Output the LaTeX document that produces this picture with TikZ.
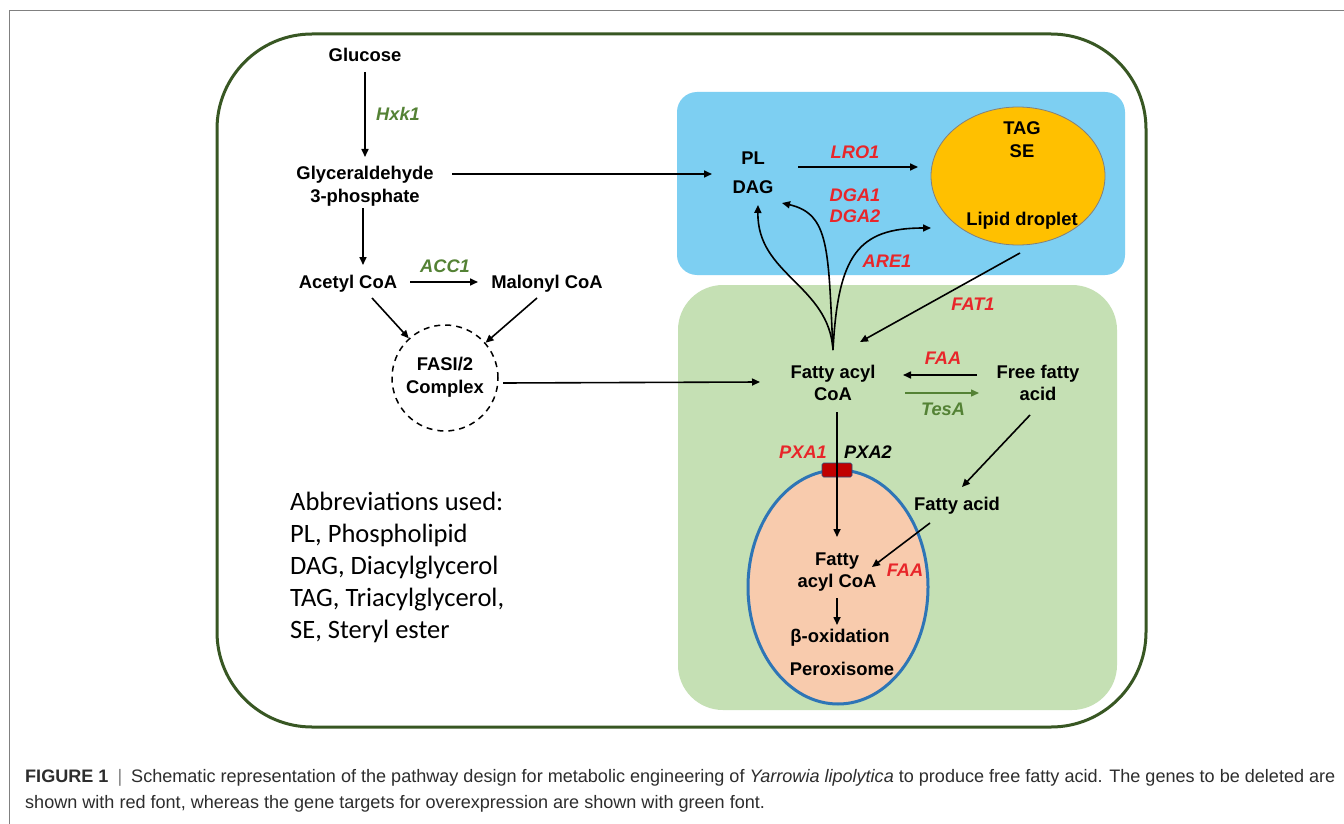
\documentclass[tikz,border=0pt]{standalone}
\usepackage{fontspec}
\setmainfont{Liberation Sans}
\newfontfamily\abbrfont{Carlito}
\usepackage{graphicx}
\usetikzlibrary{arrows.meta,shapes.geometric}
\definecolor{genered}{RGB}{232,38,42}
\definecolor{genegreen}{RGB}{84,130,53}
\definecolor{cellgreen}{RGB}{56,87,35}
\definecolor{erblue}{RGB}{125,207,242}
\definecolor{cytogreen}{RGB}{197,224,180}
\definecolor{ldorange}{RGB}{255,192,0}
\definecolor{peroxfill}{RGB}{248,203,173}
\definecolor{peroxline}{RGB}{46,117,182}
\definecolor{chanred}{RGB}{192,0,0}
\definecolor{framegray}{RGB}{128,128,128}
\definecolor{captxt}{RGB}{45,45,45}
\begin{document}
\begin{tikzpicture}[x=1pt,y=-1pt,
 lbl/.style={font=\bfseries\fontsize{18.4}{22.5}\selectfont,align=center,inner sep=0pt},
 gene/.style={font=\bfseries\itshape\fontsize{18.2}{22}\selectfont,inner sep=0pt,text=genered},
 ogene/.style={gene,text=genegreen},
 kgene/.style={gene,text=black},
 arr/.style={line width=1.6pt,-{Triangle[length=8pt,width=7pt]}},
 abbr/.style={anchor=base west,inner sep=0pt,font=\abbrfont\fontsize{26.5}{32}\selectfont}
]
\useasboundingbox (0,0) rectangle (1344,824);
\fill[white] (0,0) rectangle (1344,824);
% figure frame
\draw[framegray,line width=1pt] (9,824) -- (9,11) -- (1344,11);
% cell
\draw[cellgreen,line width=3pt,rounded corners=95pt] (217,34) rectangle (1146,727);
% compartments
\fill[erblue,rounded corners=20pt] (677,92) rectangle (1125,275);
\fill[cytogreen,rounded corners=45pt] (678,285) rectangle (1117,710);
\node[ellipse,fill=ldorange,draw=gray,line width=0.8pt,minimum width=174pt,minimum height=138pt,inner sep=0pt] (ld) at (1018,176) {};
\node[ellipse,fill=peroxfill,draw=peroxline,line width=3pt,minimum width=180pt,minimum height=234pt,inner sep=0pt] (perox) at (838,587) {};
\node[draw=peroxline!70!black,fill=chanred,line width=0.6pt,minimum width=30pt,minimum height=14pt,inner sep=0pt,rounded corners=1.5pt] (chan) at (837,470) {};

% metabolite labels
\node[lbl] (glucose) at (365,55) {Glucose};
\node[lbl] (g3p) at (365,186) {Glyceraldehyde\\3-phosphate};
\node[lbl] (acetyl) at (348,284) {Acetyl CoA};
\node[lbl] (malonyl) at (547,284) {Malonyl CoA};
\node[circle,draw,dashed,dash pattern=on 6pt off 5pt,line width=1.5pt,minimum size=106pt,inner sep=0pt] (fas) at (445,378) {};
\node[lbl] (fastxt) at (445,377) {FASI/2\\Complex};
\node[lbl] (pl) at (753,158) {PL};
\node[lbl] (dag) at (753,187) {DAG};
\node[lbl] (tag) at (1022,128) {TAG};
\node[lbl] (se) at (1022,151) {SE};
\node[lbl] (ldtxt) at (1022,221) {Lipid droplet};
\node[lbl] (fac) at (833,383) {Fatty acyl\\CoA};
\node[lbl] (ffa) at (1038,383) {Free fatty\\acid};
\node[lbl] (fa) at (957,506) {Fatty acid};
\node[lbl] (ifac) at (837,572) {Fatty\\acyl CoA};
\node[lbl] (beta) at (840,638) {β-oxidation};
\node[lbl] (peroxtxt) at (842,669) {Peroxisome};

% gene labels
\node[ogene] (hxk) at (398,114) {Hxk1};
\node[ogene] (acc) at (445,266) {ACC1};
\node[gene] (lro) at (855,152) {LRO1};
\node[gene] (dga1) at (855,195) {DGA1};
\node[gene] (dga2) at (855,216) {DGA2};
\node[gene] (are) at (887,261) {ARE1};
\node[gene] (fat) at (973,304) {FAT1};
\node[gene] (faa1) at (943,358) {FAA};
\node[ogene] (tesa) at (943,409) {TesA};
\node[gene] (pxa1) at (803,452) {PXA1};
\node[kgene] (pxa2) at (868,452) {PXA2};
\node[gene] (faa2) at (905,570) {FAA};

% connector end points
\coordinate (glucoseS) at (365,72);
\coordinate (g3pN) at (365,157);
\coordinate (g3pE) at (452,174);
\coordinate (plW) at (712,174);
\coordinate (g3pS) at (363,208);
\coordinate (acetylN) at (363,265);
\coordinate (acetylE) at (410,282);
\coordinate (malonylW) at (478,282);
\coordinate (acetylSE) at (372,298);
\coordinate (malonylSW) at (537,298);
\coordinate (fasE) at (503,383);
\coordinate (facW) at (760,382);
\coordinate (plE) at (798,167);
\coordinate (ldW) at (918,167);
\coordinate (facN) at (833,350);
\coordinate (dagS) at (758,205);
\coordinate (dagSE) at (782,203);
\coordinate (ldSW) at (931,228);
\coordinate (ldS) at (1020,253);
\coordinate (facNE) at (860,342);
\coordinate (ffaW) at (977,375);
\coordinate (facE) at (903,375);
\coordinate (facE2) at (905,393);
\coordinate (ffaW2) at (979,393);
\coordinate (ffaS) at (1030,415);
\coordinate (faN) at (962,487);
\coordinate (faSW) at (930,523);
\coordinate (ifacE) at (872,567);
\coordinate (facS) at (837,412);
\coordinate (ifacN) at (837,537);
\coordinate (ifacS) at (837,598);
\coordinate (betaN) at (837,625);

% connectors
\draw[arr] (glucoseS) -- (g3pN);
\draw[arr] (g3pE) -- (plW);
\draw[arr] (g3pS) -- (acetylN);
\draw[arr] (acetylE) -- (malonylW);
\draw[arr] (acetylSE) -- (fas);
\draw[arr] (malonylSW) -- (fas);
\draw[arr] (fasE) -- (facW);
\draw[arr] (plE) -- (ldW);
\draw[arr] (facN) .. controls (829,285) and (757,275) .. (dagS);
\draw[arr] (facN) .. controls (828,250) and (830,214) .. (dagSE);
\draw[arr] (facN) .. controls (838,255) and (858,228) .. (ldSW);
\draw[arr] (ldS) -- (facNE);
\draw[arr] (ffaW) -- (facE);
\draw[arr,genegreen,line width=1.4pt] (facE2) -- (ffaW2);
\draw[arr] (ffaS) -- (faN);
\draw[arr] (faSW) -- (ifacE);
\draw[arr] (facS) -- (ifacN);
\draw[arr] (ifacS) -- (betaN);

% abbreviations
\node[abbr] (ab1) at (290,510) {Abbreviations used:};
\node[abbr] (ab2) at (290,542) {PL, Phospholipid};
\node[abbr] (ab3) at (290,574) {DAG, Diacylglycerol};
\node[abbr] (ab4) at (290,606) {TAG, Triacylglycerol,};
\node[abbr] (ab5) at (290,638) {SE, Steryl ester};

% caption
\node[anchor=north west,inner sep=0pt,text=captxt] (cap) at (25,764) {\resizebox{1310pt}{!}{\fontsize{14}{20}\selectfont\begin{tabular}{@{}l@{}}
\textbf{FIGURE 1}\enspace{\color{gray}|}\enspace Schematic representation of the pathway design for metabolic engineering of \textit{Yarrowia lipolytica} to produce free fatty acid. The genes to be deleted are\\
shown with red font, whereas the gene targets for overexpression are shown with green font.
\end{tabular}}};
\end{tikzpicture}
\end{document}
